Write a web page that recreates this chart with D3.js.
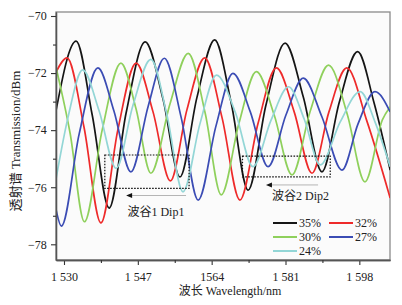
<!DOCTYPE html>
<html>
<head>
<meta charset="utf-8">
<script src="https://cdn.jsdelivr.net/npm/d3@7"></script>
<style>
  body { margin: 0; background: #fff; }
  text { font-family: "Liberation Serif", "Noto Sans CJK SC", serif; fill: #222; }
</style>
</head>
<body>
<div id="chart"></div>
<script>
// wavelength (nm), transmission (dBm)
const s35 = [[1528.2,-73.29],[1532.8,-70.88],[1536.5,-73.47],[1540.4,-76.73],[1544.3,-73.40],[1548.7,-70.91],[1552.8,-72.91],[1556.7,-75.64],[1560.6,-72.86],[1564.7,-70.84],[1568.5,-73.05],[1572.4,-76.10],[1576.5,-73.12],[1580.9,-70.95],[1585.1,-72.84],[1589.4,-75.46],[1593.4,-73.01],[1597.6,-71.25],[1601.4,-73.05],[1605.1,-75.40]];
const s32 = [[1528.2,-71.96],[1530.7,-71.47],[1534.6,-73.89],[1538.5,-77.25],[1542.4,-73.99],[1546.6,-71.65],[1550.5,-73.36],[1554.5,-75.78],[1558.3,-73.29],[1562.4,-71.47],[1566.4,-73.57],[1570.5,-76.45],[1574.7,-73.75],[1578.9,-71.82],[1583.0,-73.36],[1587.1,-75.51],[1591.0,-73.36],[1595.1,-71.82],[1599.8,-73.71],[1605.1,-76.38]];
const s30 = [[1528.2,-71.82],[1531.4,-74.10],[1534.7,-77.21],[1538.8,-73.99],[1543.1,-71.65],[1546.6,-73.26],[1550.0,-75.51],[1554.4,-73.08],[1558.6,-71.31],[1562.5,-73.40],[1566.2,-76.27],[1570.3,-73.75],[1574.3,-71.95],[1578.4,-73.47],[1582.5,-75.57],[1586.7,-73.33],[1590.9,-71.72],[1595.2,-73.43],[1599.3,-75.81],[1603.3,-73.64],[1605.1,-73.18]];
const s27 = [[1528.2,-76.80],[1529.4,-77.36],[1533.5,-74.13],[1537.8,-71.82],[1541.5,-73.33],[1545.4,-75.46],[1549.4,-73.15],[1553.1,-71.48],[1557.0,-73.57],[1560.9,-76.45],[1565.0,-73.85],[1568.9,-72.01],[1572.9,-73.36],[1577.0,-75.28],[1581.1,-73.47],[1585.1,-72.18],[1589.4,-73.54],[1594.0,-75.40],[1597.7,-73.78],[1601.6,-72.65],[1605.1,-73.36]];
const s24 = [[1528.2,-75.68],[1530.9,-73.57],[1534.3,-71.89],[1538.1,-73.33],[1542.0,-75.34],[1545.9,-73.12],[1550.0,-71.52],[1553.7,-73.47],[1557.4,-76.16],[1561.3,-73.78],[1565.1,-72.07],[1569.5,-73.40],[1573.5,-75.28],[1577.7,-73.64],[1581.7,-72.48],[1585.3,-73.61],[1589.0,-75.22],[1593.6,-73.71],[1598.2,-72.65],[1601.6,-73.71],[1605.1,-75.28]];

const seriesNames = ["35%", "32%", "30%", "27%", "24%"];
const seriesData = [s35, s32, s30, s27, s24];

const xTicks = [1530, 1547, 1564, 1581, 1598];
const xTickLabels = ["1 530", "1 547", "1564", "1 581", "1 598"];
const xMinor = [1538.5, 1555.5, 1572.5, 1589.5];
const yTicks = [-70, -72, -74, -76, -78];
const yMinor = [-71, -73, -75, -77];

// dotted dip boxes [x0, x1, y0, y1] and arrows [xHead, xTail, y] in data units
const dipBoxes = [[1539.4, 1558.8, -74.87, -76.04], [1571.1, 1591.3, -74.91, -75.64]];
const dipArrows = [[1544.3, 1558.1, -76.29], [1576.5, 1588.5, -75.92]];
const dipLabels = ["波谷1 Dip1", "波谷2 Dip2"];
const dipLabelPos = [[1544.6, -77.02], [1577.9, -76.45]];

const colors = ["#151515", "#ee2a2a", "#8fd05c", "#3b4cb4", "#93d6d6"];

const W = 402, H = 305;
const m = {t: 12, r: 12, b: 45, l: 56};

const x = d3.scaleLinear()
  .domain([1528.16, 1605.06])
  .range([m.l, W - m.r]);

const y = d3.scaleLinear()
  .domain([-69.86, -78.55])
  .range([m.t, H - m.b]);

const svg = d3.select("#chart").append("svg")
  .attr("width", W)
  .attr("height", H);

svg.append("rect")
  .attr("x", m.l).attr("y", m.t)
  .attr("width", W - m.r - m.l).attr("height", H - m.b - m.t)
  .attr("fill", "#fbfbfb")
  .attr("stroke", "#8a8a8a")
  .attr("stroke-width", 1.3);

svg.append("clipPath").attr("id", "plot")
  .append("rect")
  .attr("x", m.l).attr("y", m.t)
  .attr("width", W - m.r - m.l).attr("height", H - m.b - m.t);

const line = d3.line()
  .x(d => x(d[0]))
  .y(d => y(d[1]))
  .curve(d3.curveMonotoneX);

svg.append("g")
  .attr("clip-path", "url(#plot)")
  .selectAll("path")
  .data(seriesData)
  .enter()
  .append("path")
  .attr("d", line)
  .attr("fill", "none")
  .attr("stroke", (d, i) => colors[i])
  .attr("stroke-width", 1.7);

// dotted boxes
const ann = svg.append("g");
ann.selectAll("rect")
  .data(dipBoxes)
  .enter()
  .append("rect")
  .attr("x", d => x(d[0]))
  .attr("y", d => y(d[2]))
  .attr("width", d => x(d[1]) - x(d[0]))
  .attr("height", d => y(d[3]) - y(d[2]))
  .attr("fill", "none")
  .attr("stroke", "#111")
  .attr("stroke-width", 1.2)
  .attr("stroke-dasharray", "1.6,1.4");

ann.selectAll(".arrow")
  .data(dipArrows)
  .enter()
  .append("line")
  .attr("class", "arrow")
  .attr("x1", d => x(d[0]) + 4).attr("x2", d => x(d[1]))
  .attr("y1", d => y(d[2])).attr("y2", d => y(d[2]))
  .attr("stroke", "#b5b5b5")
  .attr("stroke-width", 1);

ann.selectAll(".head")
  .data(dipArrows)
  .enter()
  .append("path")
  .attr("class", "head")
  .attr("d", d => {
    const hx = x(d[0]), hy = y(d[2]);
    return `M${hx},${hy}L${hx + 6},${hy - 2.5}L${hx + 6},${hy + 2.5}Z`;
  })
  .attr("fill", "#111");

ann.selectAll(".dlabel")
  .data(dipLabels)
  .enter()
  .append("text")
  .attr("class", "dlabel")
  .attr("x", (d, i) => x(dipLabelPos[i][0]))
  .attr("y", (d, i) => y(dipLabelPos[i][1]))
  .attr("font-size", 12)
  .text(d => d);

// axes
const axisX = d3.axisBottom(x)
  .tickValues(xTicks)
  .tickFormat((d, i) => xTickLabels[i])
  .tickSize(5)
  .tickSizeOuter(0);

const axisXMinor = d3.axisBottom(x)
  .tickValues(xMinor)
  .tickFormat("")
  .tickSize(3)
  .tickSizeOuter(0);

const axisY = d3.axisLeft(y)
  .tickValues(yTicks)
  .tickFormat(d => "\u2212" + Math.abs(d))
  .tickSize(5)
  .tickSizeOuter(0);

const axisYMinor = d3.axisLeft(y)
  .tickValues(yMinor)
  .tickFormat("")
  .tickSize(3)
  .tickSizeOuter(0);

const gx = svg.append("g").attr("transform", `translate(0,${H - m.b})`).call(axisX);
svg.append("g").attr("transform", `translate(0,${H - m.b})`).call(axisXMinor);
const gy = svg.append("g").attr("transform", `translate(${m.l},0)`).call(axisY);
svg.append("g").attr("transform", `translate(${m.l},0)`).call(axisYMinor);

svg.selectAll(".domain").attr("stroke", "#555").attr("stroke-width", 1.3);
svg.selectAll(".tick line").attr("stroke", "#333").attr("stroke-width", 1.1);
svg.selectAll(".tick text")
  .attr("font-family", '"Liberation Serif", serif')
  .attr("font-size", 12)
  .attr("fill", "#222");
gx.selectAll(".tick text").attr("dy", "1.05em");
gy.selectAll(".tick text").attr("dx", "-0.1em");

svg.append("text")
  .attr("x", (m.l + W - m.r) / 2 + 7)
  .attr("y", 295)
  .attr("text-anchor", "middle")
  .attr("font-size", 12)
  .text("波长 Wavelength/nm");

svg.append("text")
  .attr("transform", `translate(20,${(m.t + H - m.b) / 2 + 5}) rotate(-90)`)
  .attr("text-anchor", "middle")
  .attr("font-size", 13)
  .text("透射谱 Transmission/dBm");

// legend
const legend = svg.append("g")
  .selectAll("g")
  .data(seriesNames)
  .enter()
  .append("g")
  .attr("transform", (d, i) => `translate(${273 + (i % 2) * 56},${223 + Math.floor(i / 2) * 14})`);

legend.append("line")
  .attr("x1", 0).attr("x2", 24)
  .attr("stroke", (d, i) => colors[i])
  .attr("stroke-width", 2);

legend.append("text")
  .attr("x", 26)
  .attr("y", 4.3)
  .attr("font-size", 12)
  .text(d => d);
</script>
</body>
</html>
